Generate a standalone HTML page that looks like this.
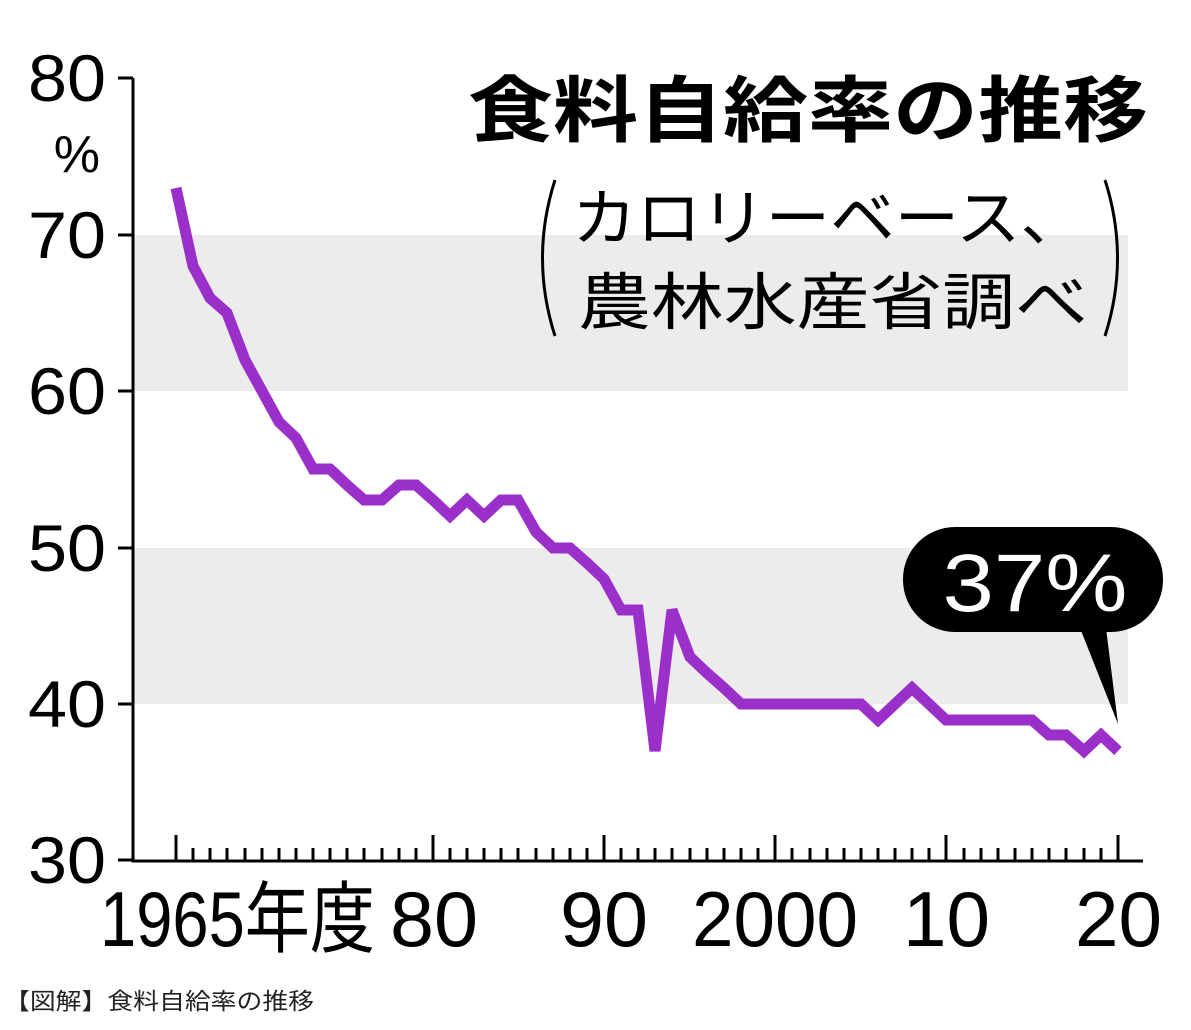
<!DOCTYPE html>
<html><head><meta charset="utf-8"><style>
body{margin:0;background:#fff;}
svg text{font-family:"Liberation Sans","Noto Sans CJK JP",sans-serif;}
</style></head><body>
<svg width="1191" height="1025" viewBox="0 0 1191 1025" xmlns="http://www.w3.org/2000/svg">
<rect width="1191" height="1025" fill="#fff"/>
<rect x="133" y="235" width="995" height="156" fill="#ececec"/>
<rect x="133" y="548" width="995" height="156" fill="#ececec"/>
<g stroke="#000" stroke-width="3" fill="none">
<path d="M133 78V861H1143"/>
<path d="M118 78H133M118 235H133M118 391H133M118 548H133M118 704H133M118 860H133"/>
</g>
<g font-size="66" fill="#000" text-anchor="end">
<text x="106" y="101" textLength="78" lengthAdjust="spacingAndGlyphs">80</text>
<text x="100" y="172" font-size="52">%</text>
<text x="106" y="258" textLength="78" lengthAdjust="spacingAndGlyphs">70</text>
<text x="106" y="414" textLength="78" lengthAdjust="spacingAndGlyphs">60</text>
<text x="106" y="571" textLength="78" lengthAdjust="spacingAndGlyphs">50</text>
<text x="106" y="727" textLength="78" lengthAdjust="spacingAndGlyphs">40</text>
<text x="106" y="883" textLength="78" lengthAdjust="spacingAndGlyphs">30</text>
</g>
<g font-size="78" fill="#000">
<text x="100" y="946" textLength="275" lengthAdjust="spacingAndGlyphs">1965年度</text>
<text x="390" y="946" textLength="88" lengthAdjust="spacingAndGlyphs">80</text>
<text x="560" y="946" textLength="88" lengthAdjust="spacingAndGlyphs">90</text>
<text x="692" y="946" textLength="166" lengthAdjust="spacingAndGlyphs">2000</text>
<text x="903" y="946" textLength="87" lengthAdjust="spacingAndGlyphs">10</text>
<text x="1075" y="946" textLength="87" lengthAdjust="spacingAndGlyphs">20</text>
</g>
<text x="1148" y="136" font-size="72" font-weight="bold" text-anchor="end" textLength="680" lengthAdjust="spacingAndGlyphs">食料自給率の推移</text>
<path d="M555 180Q530 258 555 336" stroke="#000" stroke-width="3" fill="none"/>
<path d="M1105 180Q1130 258 1105 336" stroke="#000" stroke-width="3" fill="none"/>
<text x="572" y="240" font-size="62" textLength="513" lengthAdjust="spacingAndGlyphs">カロリーベース、</text>
<text x="578" y="324" font-size="62" textLength="510" lengthAdjust="spacingAndGlyphs">農林水産省調べ</text>
<rect x="903" y="527" width="260" height="105" rx="52" fill="#000"/>
<path d="M1080 628L1106 628L1118 724Z" fill="#000"/>
<text x="1035" y="611" font-size="82" fill="#fff" text-anchor="middle" textLength="185" lengthAdjust="spacingAndGlyphs">37%</text>
<polyline fill="none" stroke="#9b2fc9" stroke-width="11" stroke-linejoin="miter" points="176,188 193,266 210,298 227,313 245,360 262,391 279,422 296,438 313,469 330,469 347,485 364,500 382,500 399,485 416,485 433,500 450,516 467,500 484,516 501,500 518,500 536,532 553,548 570,548 587,563 604,579 621,610 638,610 655,751 672,610 690,657 707,673 724,688 741,704 758,704 775,704 792,704 810,704 827,704 844,704 861,704 878,720 895,704 912,688 929,704 946,720 964,720 981,720 998,720 1015,720 1032,720 1049,735 1066,735 1084,751 1101,735 1118,751"/>
<g stroke="#000" stroke-width="3">
<line x1="176" y1="835" x2="176" y2="861"/><line x1="193" y1="848" x2="193" y2="861"/><line x1="210" y1="848" x2="210" y2="861"/><line x1="227" y1="848" x2="227" y2="861"/><line x1="245" y1="848" x2="245" y2="861"/><line x1="262" y1="848" x2="262" y2="861"/><line x1="279" y1="848" x2="279" y2="861"/><line x1="296" y1="848" x2="296" y2="861"/><line x1="313" y1="848" x2="313" y2="861"/><line x1="330" y1="848" x2="330" y2="861"/><line x1="347" y1="848" x2="347" y2="861"/><line x1="364" y1="848" x2="364" y2="861"/><line x1="382" y1="848" x2="382" y2="861"/><line x1="399" y1="848" x2="399" y2="861"/><line x1="416" y1="848" x2="416" y2="861"/><line x1="433" y1="835" x2="433" y2="861"/><line x1="450" y1="848" x2="450" y2="861"/><line x1="467" y1="848" x2="467" y2="861"/><line x1="484" y1="848" x2="484" y2="861"/><line x1="501" y1="848" x2="501" y2="861"/><line x1="518" y1="848" x2="518" y2="861"/><line x1="536" y1="848" x2="536" y2="861"/><line x1="553" y1="848" x2="553" y2="861"/><line x1="570" y1="848" x2="570" y2="861"/><line x1="587" y1="848" x2="587" y2="861"/><line x1="604" y1="835" x2="604" y2="861"/><line x1="621" y1="848" x2="621" y2="861"/><line x1="638" y1="848" x2="638" y2="861"/><line x1="655" y1="848" x2="655" y2="861"/><line x1="672" y1="848" x2="672" y2="861"/><line x1="690" y1="848" x2="690" y2="861"/><line x1="707" y1="848" x2="707" y2="861"/><line x1="724" y1="848" x2="724" y2="861"/><line x1="741" y1="848" x2="741" y2="861"/><line x1="758" y1="848" x2="758" y2="861"/><line x1="775" y1="835" x2="775" y2="861"/><line x1="792" y1="848" x2="792" y2="861"/><line x1="810" y1="848" x2="810" y2="861"/><line x1="827" y1="848" x2="827" y2="861"/><line x1="844" y1="848" x2="844" y2="861"/><line x1="861" y1="848" x2="861" y2="861"/><line x1="878" y1="848" x2="878" y2="861"/><line x1="895" y1="848" x2="895" y2="861"/><line x1="912" y1="848" x2="912" y2="861"/><line x1="929" y1="848" x2="929" y2="861"/><line x1="946" y1="835" x2="946" y2="861"/><line x1="964" y1="848" x2="964" y2="861"/><line x1="981" y1="848" x2="981" y2="861"/><line x1="998" y1="848" x2="998" y2="861"/><line x1="1015" y1="848" x2="1015" y2="861"/><line x1="1032" y1="848" x2="1032" y2="861"/><line x1="1049" y1="848" x2="1049" y2="861"/><line x1="1066" y1="848" x2="1066" y2="861"/><line x1="1084" y1="848" x2="1084" y2="861"/><line x1="1101" y1="848" x2="1101" y2="861"/><line x1="1118" y1="835" x2="1118" y2="861"/>
</g>
<text x="4" y="1009" font-size="23" fill="#222" textLength="310" lengthAdjust="spacingAndGlyphs">【図解】食料自給率の推移</text>
</svg>
</body></html>
